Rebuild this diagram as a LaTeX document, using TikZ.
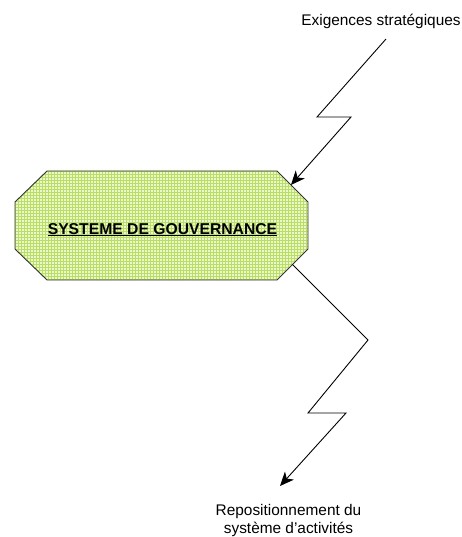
\documentclass[tikz,border=0pt]{standalone}
\usepackage{fontspec}
\setmainfont{Liberation Sans}
\usetikzlibrary{arrows.meta,patterns,calc}
\definecolor{govfill}{RGB}{236,247,205}
\definecolor{govgrid}{RGB}{184,222,100}
\tikzset{
    govbox/.style={fill=govfill, postaction={pattern=grid, pattern color=govgrid},
        postaction={draw=black!80, line width=0.9pt}},
    govtext/.style={font=\bfseries\fontsize{15.7}{18}\selectfont, inner sep=0pt},
    lbl/.style={font=\fontsize{15.4}{18}\selectfont, inner sep=0pt, align=center},
    zigzag/.style={line width=0.9pt, -{Stealth[length=14pt,width=12pt,inset=4pt]}}
}
\begin{document}
\begin{tikzpicture}[x=1pt,y=-1pt]
    \useasboundingbox (0,0) rectangle (461,537);
    % octagon
    \coordinate (tl) at (47,171);
    \coordinate (tr) at (277,171);
    \coordinate (rt) at (308,202);
    \coordinate (rb) at (308,249);
    \coordinate (br) at (277,280);
    \coordinate (bl) at (47,280);
    \coordinate (lb) at (15,249);
    \coordinate (lt) at (15,202);
    \path[govbox] (tl) -- (tr) -- (rt) -- (rb) -- (br) -- (bl) -- (lb) -- (lt) -- cycle;
    \node[govtext, anchor=base] (gov) at (162.5,234) {\underline{SYSTEME DE GOUVERNANCE}};
    % labels
    \node[lbl, anchor=base] (strat) at (381,26) {Exigences stratégiques};
    \node[lbl, anchor=north] (repos) at (288.5,504) {Repositionnement du\\système d’activités};
    % connectors
    \coordinate (in) at ($(tr)!0.45!(rt)$);
    \coordinate (out) at ($(rb)!0.5!(br)$);
    \coordinate (s1) at (386,39);
    \coordinate (t1) at (280,486);
    \draw[zigzag] (s1) -- (317,117) -- (351,117) -- (in);
    \draw[zigzag] (out) -- (368,340) -- (308,413) -- (346,413) -- (t1);
\end{tikzpicture}
\end{document}
